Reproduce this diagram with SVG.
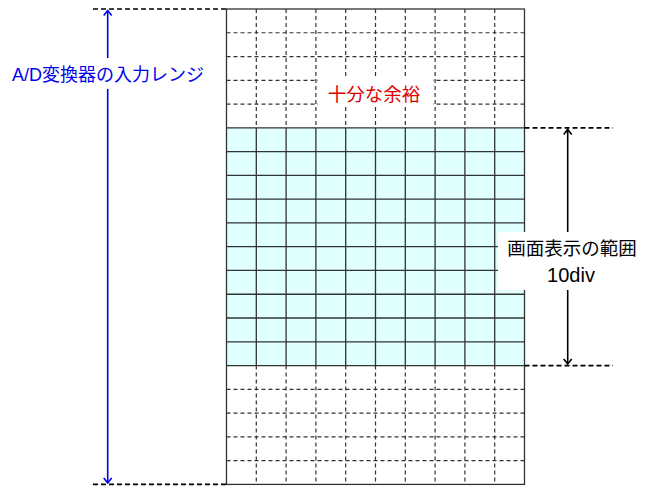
<svg xmlns="http://www.w3.org/2000/svg" width="649" height="494" viewBox="0 0 649 494">
<defs>
<style>
.dash{stroke:#333;stroke-width:1.2;stroke-dasharray:4,3;fill:none}
.solid{stroke:#333;stroke-width:1.3;fill:none}
.ext{stroke:#000;stroke-width:1.7;stroke-dasharray:5,3;fill:none}
.lbl{font-family:"Liberation Sans","Noto Sans CJK JP",sans-serif;font-size:18.5px;text-anchor:middle}
</style>
<marker id="ab" markerWidth="12" markerHeight="12" refX="6" refY="6" orient="auto" markerUnits="userSpaceOnUse">
<path d="M1,2 L6,6 L1,10" fill="none" stroke="#0000ee" stroke-width="1.6"/>
</marker>
<marker id="ak" markerWidth="12" markerHeight="12" refX="6" refY="6" orient="auto" markerUnits="userSpaceOnUse">
<path d="M1,2 L6,6 L1,10" fill="none" stroke="#000" stroke-width="1.6"/>
</marker>
</defs>
<rect width="649" height="494" fill="#fff"/>
<g id="grid">
<rect x="226.5" y="127.85" width="298" height="237.7" fill="#e0ffff"/>
<path class="dash" d="M256.3,9V127.85M286.1,9V127.85M315.9,9V127.85M345.7,9V127.85M375.5,9V127.85M405.3,9V127.85M435.1,9V127.85M464.9,9V127.85M494.7,9V127.85
M256.3,365.55V484.4M286.1,365.55V484.4M315.9,365.55V484.4M345.7,365.55V484.4M375.5,365.55V484.4M405.3,365.55V484.4M435.1,365.55V484.4M464.9,365.55V484.4M494.7,365.55V484.4
M226.5,32.77H524.5M226.5,56.54H524.5M226.5,80.31H524.5M226.5,104.08H524.5
M226.5,389.32H524.5M226.5,413.09H524.5M226.5,436.86H524.5M226.5,460.63H524.5"/>
<path class="solid" d="M256.3,127.85V365.55M286.1,127.85V365.55M315.9,127.85V365.55M345.7,127.85V365.55M375.5,127.85V365.55M405.3,127.85V365.55M435.1,127.85V365.55M464.9,127.85V365.55M494.7,127.85V365.55
M226.5,127.85H524.5M226.5,151.62H524.5M226.5,175.39H524.5M226.5,199.16H524.5M226.5,222.93H524.5M226.5,246.7H524.5M226.5,270.47H524.5M226.5,294.24H524.5M226.5,318.01H524.5M226.5,341.78H524.5M226.5,365.55H524.5"/>
<rect class="solid" x="226.5" y="9" width="298" height="475.4"/>
</g>
<g id="connectors">
<path class="ext" d="M93,9H226.5M93,484.4H226.5M524.5,127.85H613M524.5,365.55H613"/>
<line x1="107.7" y1="472" x2="107.7" y2="21" stroke="#0000ee" stroke-width="1.6"/>
<line x1="107.7" y1="21" x2="107.7" y2="10.5" stroke="#0000ee" stroke-width="1.6" marker-end="url(#ab)"/>
<line x1="107.7" y1="472" x2="107.7" y2="482.9" stroke="#0000ee" stroke-width="1.6" marker-end="url(#ab)"/>
<line x1="567.7" y1="140" x2="567.7" y2="354" stroke="#000" stroke-width="1.6"/>
<line x1="567.7" y1="140" x2="567.7" y2="129.4" stroke="#000" stroke-width="1.6" marker-end="url(#ak)"/>
<line x1="567.7" y1="354" x2="567.7" y2="364" stroke="#000" stroke-width="1.6" marker-end="url(#ak)"/>
</g>
<g id="label-range">
<rect x="5" y="58" width="207" height="31" fill="#fff"/>
<text class="lbl" x="108" y="80.5" fill="#0000ee" style="font-size:18px">A/D変換器の入力レンジ</text>
</g>
<g id="label-margin">
<rect x="318" y="79" width="115" height="27" fill="#fff"/>
<text class="lbl" x="374" y="100.5" fill="#e00000">十分な余裕</text>
</g>
<g id="label-display">
<rect x="498" y="232" width="143" height="58" fill="#fff"/>
<text class="lbl" x="572" y="254.5" fill="#000">画面表示の範囲</text>
<text class="lbl" x="571" y="282" fill="#000" style="font-size:20px">10div</text>
</g>
</svg>
